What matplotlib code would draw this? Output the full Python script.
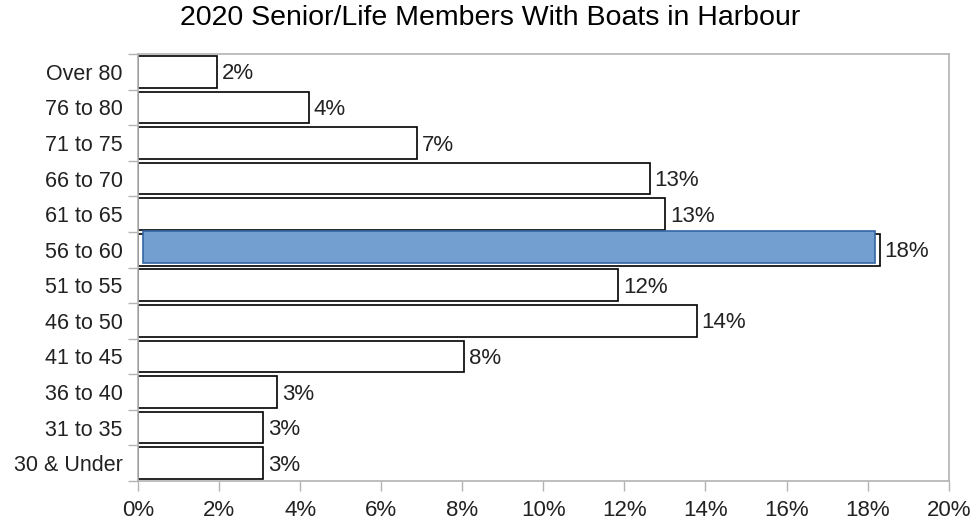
import matplotlib.pyplot as plt
from matplotlib.transforms import ScaledTranslation
from matplotlib.ticker import FuncFormatter
import numpy as np

# age bands, top to bottom as shown
age_bands = ['Over 80', '76 to 80', '71 to 75', '66 to 70', '61 to 65', '56 to 60',
             '51 to 55', '46 to 50', '41 to 45', '36 to 40', '31 to 35', '30 & Under']
share_pct = [1.95, 4.22, 6.89, 12.62, 13.01, 18.3, 11.85, 13.78, 8.05, 3.43, 3.09, 3.09]
highlight = '56 to 60'

plt.rcParams['font.family'] = ['Liberation Sans', 'DejaVu Sans']

fig = plt.figure(figsize=(9.72, 5.2), dpi=100)
ax = fig.add_axes([0.142, 0.075, 0.834, 0.821])

y = np.arange(len(age_bands))
bars = ax.barh(y, share_pct, height=0.89, color='white', edgecolor='black', linewidth=1.2, zorder=2)

# highlighted band gets a blue bar drawn slightly up and inside the outline
i = age_bands.index(highlight)
shift = ax.transData + ScaledTranslation(0, 3 / 100, fig.dpi_scale_trans)
blue = ax.barh([y[i]], [share_pct[i]], height=0.89, color='#729fcf', edgecolor='#3465a4',
               linewidth=1.2, zorder=3, transform=shift)[0]
blue.set_x(blue.get_x() + 0.12)
blue.set_width(blue.get_width() - 0.24)

# value labels sit a touch below the bar centre
lbl_shift = ax.transData + ScaledTranslation(0, -2 / 100, fig.dpi_scale_trans)
for b, v in zip(bars, share_pct):
    ax.text(b.get_width() + 0.12, b.get_y() + b.get_height() / 2, f'{v:.0f}%',
            va='center', ha='left', fontsize=16, color='#222222', zorder=4,
            transform=lbl_shift)

ax.set_ylim(len(age_bands) - 0.5, -0.5)
ax.set_xlim(0, 20)
ax.set_yticks(y)
ax.set_yticklabels(age_bands, fontsize=15.5, color='#222222')
ax.set_yticks(np.arange(len(age_bands) + 1) - 0.5, minor=True)
ax.tick_params(axis='y', which='major', length=0, pad=11)
ax.tick_params(axis='y', which='minor', length=7, color='#b3b3b3', width=1)
ax.set_xticks(np.arange(0, 21, 2))
ax.xaxis.set_major_formatter(FuncFormatter(lambda v, p: f'{v:.0f}%'))
ax.tick_params(axis='x', length=7, color='#b3b3b3', width=1, labelsize=16, pad=6.5,
               labelcolor='#222222')

for s in ax.spines.values():
    s.set_color('#b3b3b3')
    s.set_linewidth(1.2)

fig.suptitle('2020 Senior/Life Members With Boats in Harbour', fontsize=20.5, y=0.99, x=0.504)

fig.savefig('out.png', dpi=100)
